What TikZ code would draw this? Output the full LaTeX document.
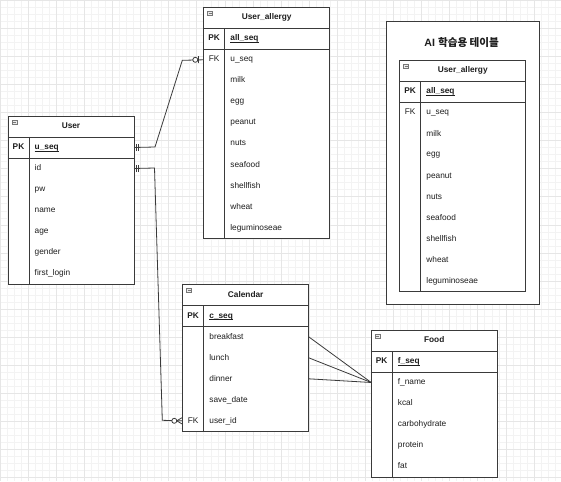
\documentclass[tikz,border=0pt]{standalone}
\usepackage{fontspec}
\setmainfont{Liberation Sans}
\newfontfamily\krfont{Noto Sans CJK KR}
\definecolor{bordc}{HTML}{3A3A3A}
\definecolor{txtc}{HTML}{1E1E1E}
\definecolor{gminc}{HTML}{F3F3F3}
\definecolor{gmajc}{HTML}{E6E6E6}
\definecolor{iconc}{HTML}{777777}
\newcommand{\pkul}[1]{\setbox0\hbox{#1}\rlap{\rule[-1.4pt]{\wd0}{0.6pt}}\box0}
\newcommand{\ertable}[7]{% name, x, y, nrows, title, pk, fields
  \node[tblbox, minimum height={42pt+#4*21pt}] (#1) at (#2,#3) {};
  \draw[bord] ([yshift=-21pt]#1.north west) -- ([yshift=-21pt]#1.north east);
  \draw[bord] ([yshift=-42pt]#1.north west) -- ([yshift=-42pt]#1.north east);
  \draw[bord] ([xshift=21pt,yshift=-21pt]#1.north west) -- ([xshift=21pt]#1.south west);
  \draw[iconst] ([xshift=4pt,yshift=-3.8pt]#1.north west) rectangle ([xshift=9pt,yshift=-8.4pt]#1.north west);
  \draw[iconc, line width=0.6pt] ([xshift=5pt,yshift=-6.1pt]#1.north west) -- ([xshift=8pt,yshift=-6.1pt]#1.north west);
  \node[ttl] (#1-t) at ([xshift=63pt,yshift=-10.5pt]#1.north west) {#5};
  \node[keyt] (#1-pkk) at ([xshift=10.5pt,yshift=-31.5pt]#1.north west) {PK};
  \node[fld, font=\fs\bfseries] (#1-pk) at ([xshift=26.5pt,yshift=-31.5pt]#1.north west) {\pkul{#6}};
  \foreach \f [count=\i] in {#7} {
    \node[fld] (#1-r\i) at ([xshift=26.5pt,yshift={-(52.5+21*(\i-1))*1pt}]#1.north west) {\f};
  }
}
\newcommand{\fs}{\fontsize{8.3}{10}\selectfont}
\begin{document}
\begin{tikzpicture}[x=1pt,y=-1pt,
  tblbox/.style={draw=bordc, fill=white, line width=0.9pt, minimum width=126pt, inner sep=0pt, outer sep=0pt, anchor=north west},
  bord/.style={draw=bordc, line width=0.9pt},
  iconst/.style={draw=iconc, fill=gray!15, line width=0.5pt},
  txtfix/.style={text height=6pt, text depth=1.6pt, inner sep=0pt},
  ttl/.style={font=\fs\bfseries, text=txtc, txtfix},
  fld/.style={font=\fs, text=txtc, anchor=west, txtfix},
  keyt/.style={font=\fs\bfseries, text=txtc, txtfix},
  conn/.style={draw=bordc, line width=0.8pt},
  ermark/.style={draw=bordc, line width=0.8pt},
]
\useasboundingbox (0,0) rectangle (561,481);
% grid
\foreach \i in {0,...,80} {
  \draw[gminc, line width=0.5pt] (\i*7.025,0) -- (\i*7.025,481);
}
\foreach \i in {0,...,69} {
  \draw[gminc, line width=0.5pt] (0,\i*7.025) -- (561,\i*7.025);
}
\foreach \i in {0,...,20} {
  \draw[gmajc, line width=0.6pt] (\i*28.1,0) -- (\i*28.1,481);
}
\foreach \i in {0,...,17} {
  \draw[gmajc, line width=0.6pt] (0,\i*28.1) -- (561,\i*28.1);
}

% AI box
\node[draw=bordc, fill=white, line width=0.9pt, anchor=north west, minimum width=153.6pt, minimum height=283pt, inner sep=0pt] (AIbox) at (385.7,21.3) {};
\node[font=\fontsize{10.6}{12}\selectfont\bfseries, text=txtc, inner sep=0pt] (AItitle) at (461.7,42.6) {AI {\krfont\bfseries 학습용 테이블}};

% tables
\ertable{User}{8}{116}{6}{User}{u\_seq}{id,pw,name,age,gender,first\_login}
\ertable{UA}{203.7}{7.3}{9}{User\_allergy}{all\_seq}{u\_seq,milk,egg,peanut,nuts,seafood,shellfish,wheat,leguminoseae}
\node[keyt, font=\fs] (UA-fk) at ([xshift=10.5pt]UA.west |- UA-r1) {FK};
\ertable{Cal}{182.7}{284.3}{5}{Calendar}{c\_seq}{breakfast,lunch,dinner,save\_date,user\_id}
\node[keyt, font=\fs] (Cal-fk) at ([xshift=10.5pt]Cal.west |- Cal-r5) {FK};
\ertable{Food}{371.2}{330}{5}{Food}{f\_seq}{f\_name,kcal,carbohydrate,protein,fat}
\ertable{AIT}{399.7}{60.3}{9}{User\_allergy}{all\_seq}{u\_seq,milk,egg,peanut,nuts,seafood,shellfish,wheat,leguminoseae}
\node[keyt, font=\fs] (AIT-fk) at ([xshift=10.5pt]AIT.west |- AIT-r1) {FK};

% connector User -> User_allergy
\coordinate (b1) at (155,147);
\coordinate (b2) at (182.3,60.3);
\draw[conn] (User.east |- User-pk) -- (b1) -- (b2) -- (UA.west |- UA-r1);
\draw[ermark] ([xshift=2pt,yshift=-3.5pt]User.east |- User-pk) -- ++(0,-7);
\draw[ermark] ([xshift=4.5pt,yshift=-3.5pt]User.east |- User-pk) -- ++(0,-7);
\draw[ermark, fill=white] ([xshift=-8.4pt]UA.west |- UA-r1) circle[radius=2.5pt];
\draw[ermark] ([xshift=-5pt,yshift=-3.5pt]UA.west |- UA-r1) -- ++(0,-7);

% connector User -> Calendar
\coordinate (c1) at (154.5,168);
\coordinate (c2) at (162.3,420.3);
\draw[conn] (User.east |- User-r1) -- (c1) -- (c2) -- (Cal.west |- Cal-r5);
\draw[ermark] ([xshift=2pt,yshift=-3.5pt]User.east |- User-r1) -- ++(0,-7);
\draw[ermark] ([xshift=4.5pt,yshift=-3.5pt]User.east |- User-r1) -- ++(0,-7);
\draw[ermark, fill=white] ([xshift=-8.4pt]Cal.west |- Cal-r5) circle[radius=2.5pt];
\draw[ermark] ([xshift=-6pt]Cal.west |- Cal-r5) -- ([yshift=3.5pt]Cal.west |- Cal-r5);
\draw[ermark] ([xshift=-6pt]Cal.west |- Cal-r5) -- ([yshift=-3.5pt]Cal.west |- Cal-r5);

% Calendar -> Food
\draw[conn] (Cal.east |- Cal-r1) -- (Food.west |- Food-r1);
\draw[conn] (Cal.east |- Cal-r2) -- (Food.west |- Food-r1);
\draw[conn] (Cal.east |- Cal-r3) -- (Food.west |- Food-r1);
\end{tikzpicture}
\end{document}
